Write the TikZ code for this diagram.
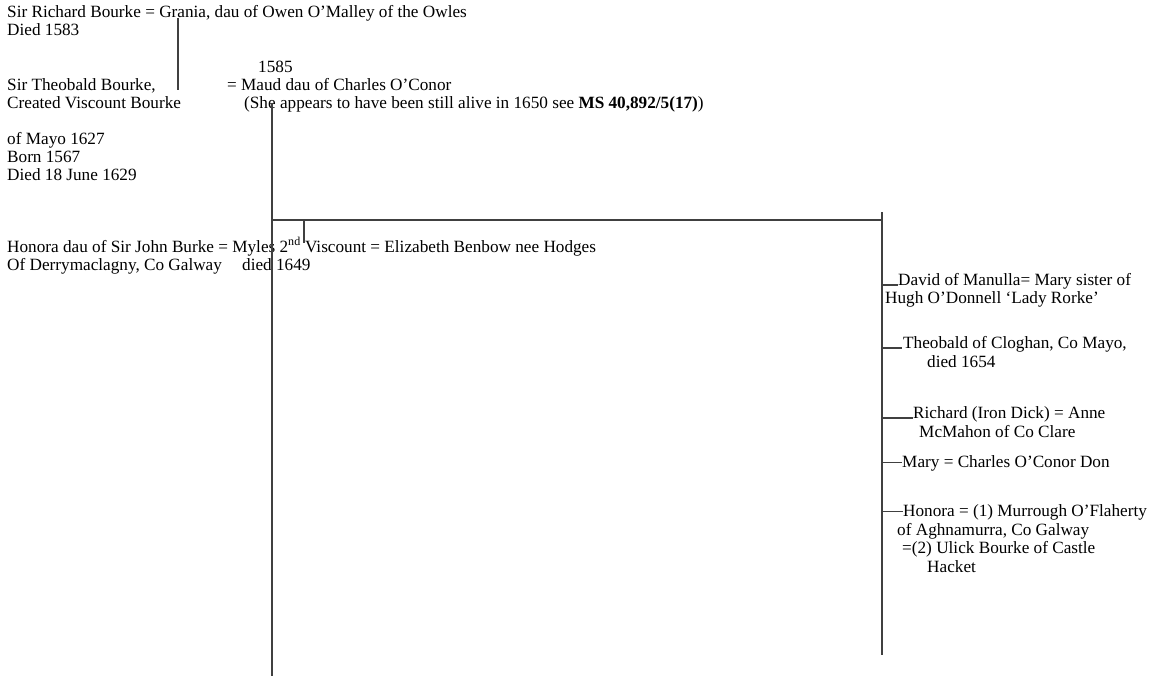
\documentclass[tikz,border=0pt]{standalone}
\usepackage{fontspec}
\setmainfont{Liberation Serif}
\usetikzlibrary{positioning}

\begin{document}
\begin{tikzpicture}[
			x=1pt, y=-1pt,
			font=\fontsize{17.2}{18}\selectfont,
			txt/.style={anchor=base west, inner sep=0pt},
			ln/.style={line width=1.2pt, black!75}
		]
		\useasboundingbox (0,0) rectangle (1164,680);

		% first generation
		\node[txt] (richard) at (7,17) {Sir Richard Bourke = Grania, dau of Owen O’Malley of the Owles};
		\node[txt] (richardd) at (7,35) {Died 1583};

		% Theobald and Maud
		\node[txt] (wed) at (258,72) {1585};
		\node[txt] (theo) at (7,90) {Sir Theobald Bourke,};
		\node[txt] (maud) at (227,90) {= Maud dau of Charles O’Conor};
		\node[txt] (theob) at (7,108) {Created Viscount Bourke};
		\node[txt] (maudb) at (244,108) {(She appears to have been still alive in 1650 see \textbf{MS 40,892/5(17)})};
		\node[txt] (theoc) at (7,144) {of Mayo 1627};
		\node[txt] (theod) at (7,162) {Born 1567};
		\node[txt] (theoe) at (7,180) {Died 18 June 1629};

		% Myles
		\node[txt] (myles) at (7,252) {Honora dau of Sir John Burke = Myles 2\textsuperscript{nd} Viscount = Elizabeth Benbow nee Hodges};
		\node[txt] (mylesb) at (7,270) {Of Derrymaclagny, Co Galway};
		\node[txt] (mylesd) at (242,270) {died 1649};

		% younger children
		\node[txt] (david) at (898,285) {David of Manulla= Mary sister of};
		\node[txt] (davidb) at (885,303) {Hugh O’Donnell ‘Lady Rorke’};
		\node[txt] (theobald) at (903,348) {Theobald of Cloghan, Co Mayo,};
		\node[txt] (theobaldb) at (927,367) {died 1654};
		\node[txt] (dick) at (913,418) {Richard (Iron Dick) = Anne};
		\node[txt] (dickb) at (919,437) {McMahon of Co Clare};
		\node[txt] (mary) at (902,467) {Mary = Charles O’Conor Don};
		\node[txt] (honora) at (903,516) {Honora = (1) Murrough O’Flaherty};
		\node[txt] (honorab) at (897,535) {of Aghnamurra, Co Galway};
		\node[txt] (honorac) at (902,553) {=(2) Ulick Bourke of Castle};
		\node[txt] (honorad) at (927,572) {Hacket};

		\coordinate (d1) at (178,18);
		\coordinate (d2) at (272,103);
		\coordinate (sib) at (882,212);

		\draw[ln] (d1) -- (d1 |- theo.base);
		\draw[ln] (d2) -- ++(0,573);
		\draw[ln] (d2 |- 0,220) -- (sib |- 0,220);
		\draw[ln] (304,220) -- (304,243);
		\draw[ln] (sib) -- ++(0,443);

		\draw[ln] (david.base west -| sib) -- (david.base west);
		\draw[ln] (theobald.base west -| sib) -- ++(20,0);
		\draw[ln] (dick.base west -| sib) -- (dick.base west);
		\draw[ln] (mary.west -| sib) -- (mary.west);
		\draw[ln] (honora.west -| sib) -- (honora.west);
	\end{tikzpicture}
\end{document}
